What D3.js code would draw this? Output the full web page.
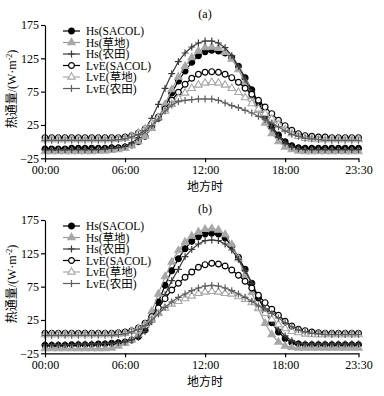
<!DOCTYPE html>
<html>
<head>
<meta charset="utf-8">
<script src="https://cdn.jsdelivr.net/npm/d3@7.9.0/dist/d3.min.js"></script>
<style>
  body { margin: 0; background: #fff; }
  svg { display: block; }
  text { font-family: "Liberation Serif", "Noto Sans CJK SC", serif; fill: #000; }
</style>
</head>
<body>
<div id="chart"></div>
<script>
// half-hourly local time, 00:00 .. 23:30
const hours = d3.range(0, 24, 0.5);
const tickHours = [0, 6, 12, 18, 23.5];
const tickLabels = ['00:00', '06:00', '12:00', '18:00', '23:30'];
const yTicks = [-25, 25, 75, 125, 175];
const seriesNames = ['Hs(SACOL)', 'Hs(草地)', 'Hs(农田)', 'LvE(SACOL)', 'LvE(草地)', 'LvE(农田)'];

// panel (a)
const hsSacolA = [-11,-11,-11,-11,-10,-10,-10,-10,-10,-10,-9,-9,-8,
  -5,0,8,21,35,52,73,91,106,119,129,135,137,136,133,126,113,96,78,58,39,23,10,0,-6,-9,
  -10,-10,-10,-10,-10,-10,-10,-10,-10];
const hsGrassA = [-15,-15,-15,-15,-15,-15,-15,-15,-14,-14,-13,-12,-10,
  -6,0,8,20,36,56,78,97,113,126,136,141,142,140,134,124,108,89,68,47,28,12,0,-8,-12,-14,
  -15,-15,-15,-15,-15,-15,-15,-15,-15];
const hsFarmA = [-12,-12,-12,-12,-12,-12,-12,-12,-12,-11,-10,-9,-7,
  -2,6,18,35,56,80,102,120,133,142,148,151,151,148,141,129,113,94,74,54,36,20,7,-2,-8,-11,
  -12,-12,-12,-12,-12,-12,-12,-12,-12];
const lveSacolA = [6,6,6,6,6,6,6,6,6,6,6,6,7,
  9,13,19,27,37,49,62,74,86,95,101,104,105,104,101,96,89,80,71,62,52,42,32,24,17,12,
  9,8,7,7,6,6,6,6,6];
const lveGrassA = [3,3,3,3,3,3,3,3,3,3,3,4,5,
  8,13,19,27,36,46,56,65,73,80,85,88,89,88,85,80,74,66,57,49,42,34,26,18,12,8,
  5,4,3,3,3,3,3,3,3];
const lveFarmA = [2,2,2,2,2,2,2,2,2,2,2,3,4,
  7,11,17,24,34,46,55,60,62,63,64,64,64,62,58,54,51,47,43,38,33,28,22,16,11,8,
  5,4,3,2,2,2,2,2,2];

// panel (b)
const hsSacolB = [-13,-13,-13,-13,-12,-12,-12,-12,-11,-11,-10,-9,-8,
  -5,0,10,28,52,77,99,117,132,143,150,154,155,154,148,136,119,101,80,58,38,21,7,-3,-9,-11,
  -12,-12,-12,-12,-12,-12,-12,-12,-12];
const hsGrassB = [-18,-18,-18,-18,-18,-18,-18,-18,-18,-18,-17,-14,-10,
  -5,3,17,38,64,90,112,129,142,151,157,161,162,160,153,138,117,92,66,42,20,3,-8,-14,-16,-17,
  -17,-17,-17,-17,-17,-17,-17,-17,-17];
const hsFarmB = [-12,-12,-12,-12,-12,-11,-11,-11,-11,-10,-10,-9,-8,
  -5,-1,8,22,42,63,84,101,120,131,139,144,145,144,139,130,116,99,80,60,41,24,11,1,-6,-10,
  -11,-11,-11,-11,-11,-11,-11,-11,-11];
const lveSacolB = [5,5,5,5,5,5,5,5,5,5,5,6,7,
  9,13,20,30,43,57,70,80,89,97,104,108,110,109,106,100,92,83,73,62,51,41,32,23,16,11,
  9,7,6,5,5,5,5,5,5];
const lveGrassB = [3,3,3,3,3,3,3,3,3,3,3,4,5,
  8,12,18,26,35,43,49,53,57,61,65,67,68,67,65,64,60,56,51,43,35,26,18,12,8,6,
  4,3,3,3,3,3,3,3,3];
const lveFarmB = [2,2,2,2,2,2,2,2,2,2,2,3,4,
  7,11,17,25,34,44,52,59,64,69,73,76,77,76,73,69,64,59,53,46,42,35,28,21,15,10,
  7,5,4,3,3,3,3,3,3];

const panelA = [hsSacolA, hsGrassA, hsFarmA, lveSacolA, lveGrassA, lveFarmA];
const panelB = [hsSacolB, hsGrassB, hsFarmB, lveSacolB, lveGrassB, lveFarmB];

// line colour, marker type, marker fill, marker stroke
const styles = [
  { line: '#000', mark: 'circle', fill: '#000', stroke: '#000' },
  { line: '#999', mark: 'triangle', fill: '#a8a8a8', stroke: '#a8a8a8' },
  { line: '#3a3a3a', mark: 'plus', fill: 'none', stroke: '#3a3a3a' },
  { line: '#000', mark: 'circle', fill: '#fff', stroke: '#000' },
  { line: '#aaa', mark: 'triangle', fill: '#fff', stroke: '#a8a8a8' },
  { line: '#5e5e5e', mark: 'plus', fill: 'none', stroke: '#5e5e5e' },
];

const width = 384, height = 396;
const svg = d3.select('#chart').append('svg')
  .attr('width', width).attr('height', height);

const x = d3.scaleLinear().domain([0, 23.5]).range([45, 358.5]);

function drawMarker(g, st) {
  if (st.mark === 'circle') {
    g.append('circle').attr('r', 2.9)
      .attr('fill', st.fill).attr('stroke', st.stroke).attr('stroke-width', 1.2);
  } else if (st.mark === 'triangle') {
    g.append('path').attr('d', d3.symbol(d3.symbolTriangle, 24)())
      .attr('fill', st.fill).attr('stroke', st.stroke).attr('stroke-width', 1.1);
  } else {
    g.append('path').attr('d', 'M-3.4,0H3.4M0,-3.4V3.4')
      .attr('fill', 'none').attr('stroke', st.stroke).attr('stroke-width', 1.2);
  }
}

function drawPanel(top, tag, series) {
  const bottom = top + 133.3;
  const y = d3.scaleLinear().domain([-25, 175]).range([bottom, top]);
  const g = svg.append('g');

  // series
  series.forEach((vals, i) => {
    const st = styles[i];
    const pts = hours.map((h, k) => [h, vals[k]]);
    g.append('path')
      .datum(pts)
      .attr('fill', 'none')
      .attr('stroke', st.line)
      .attr('stroke-width', 1.2)
      .attr('d', d3.line().x(d => x(d[0])).y(d => y(d[1])));
    g.append('g').selectAll('g')
      .data(pts)
      .join('g')
      .attr('transform', d => `translate(${x(d[0])},${y(d[1])})`)
      .each(function () { drawMarker(d3.select(this), st); });
  });

  // axes
  const yAxis = g.append('g')
    .attr('transform', `translate(${x(0)},0)`)
    .call(d3.axisLeft(y).tickValues(yTicks).tickSize(4).tickSizeOuter(0));
  const xAxis = g.append('g')
    .attr('transform', `translate(0,${bottom})`)
    .call(d3.axisBottom(x).tickValues(tickHours)
      .tickFormat((d, i) => tickLabels[i]).tickSize(4).tickSizeOuter(0));
  [yAxis, xAxis].forEach(a => {
    a.select('.domain').attr('stroke', '#000').attr('stroke-width', 1.2);
    a.selectAll('.tick line').attr('stroke', '#000').attr('stroke-width', 1.2);
    a.selectAll('.tick text')
      .style('font-family', '"Liberation Serif", serif')
      .style('font-size', '12px').attr('fill', '#000');
  });
  yAxis.selectAll('.tick text').attr('x', -6);
  xAxis.selectAll('.tick text').attr('y', 7);

  // titles
  g.append('text')
    .attr('x', 205).attr('y', top - 7)
    .attr('text-anchor', 'middle')
    .style('font-size', '12px')
    .text(tag);
  g.append('text')
    .attr('x', 205).attr('y', bottom + 33)
    .attr('text-anchor', 'middle')
    .style('font-size', '12px')
    .text('地方时');
  const yl = g.append('text')
    .attr('transform', `translate(16,${top + 64}) rotate(-90)`)
    .attr('text-anchor', 'middle')
    .style('font-size', '12px');
  yl.append('tspan').text('热通量/(W·m');
  yl.append('tspan').attr('dy', -4).style('font-size', '8px').text('-2');
  yl.append('tspan').attr('dy', 4).text(')');

  // legend
  const lg = g.append('g');
  seriesNames.forEach((name, i) => {
    const st = styles[i];
    const ly = top + 6 + i * 11.5;
    lg.append('line')
      .attr('x1', 63).attr('x2', 80).attr('y1', ly).attr('y2', ly)
      .attr('stroke', st.line).attr('stroke-width', 1.2);
    const m = lg.append('g').attr('transform', `translate(71.5,${ly})`);
    drawMarker(m, st);
    lg.append('text')
      .attr('x', 86).attr('y', ly + 4)
      .style('font-size', '11.5px')
      .text(name);
  });
}

drawPanel(25, '(a)', panelA);
drawPanel(220, '(b)', panelB);
</script>
</body>
</html>
